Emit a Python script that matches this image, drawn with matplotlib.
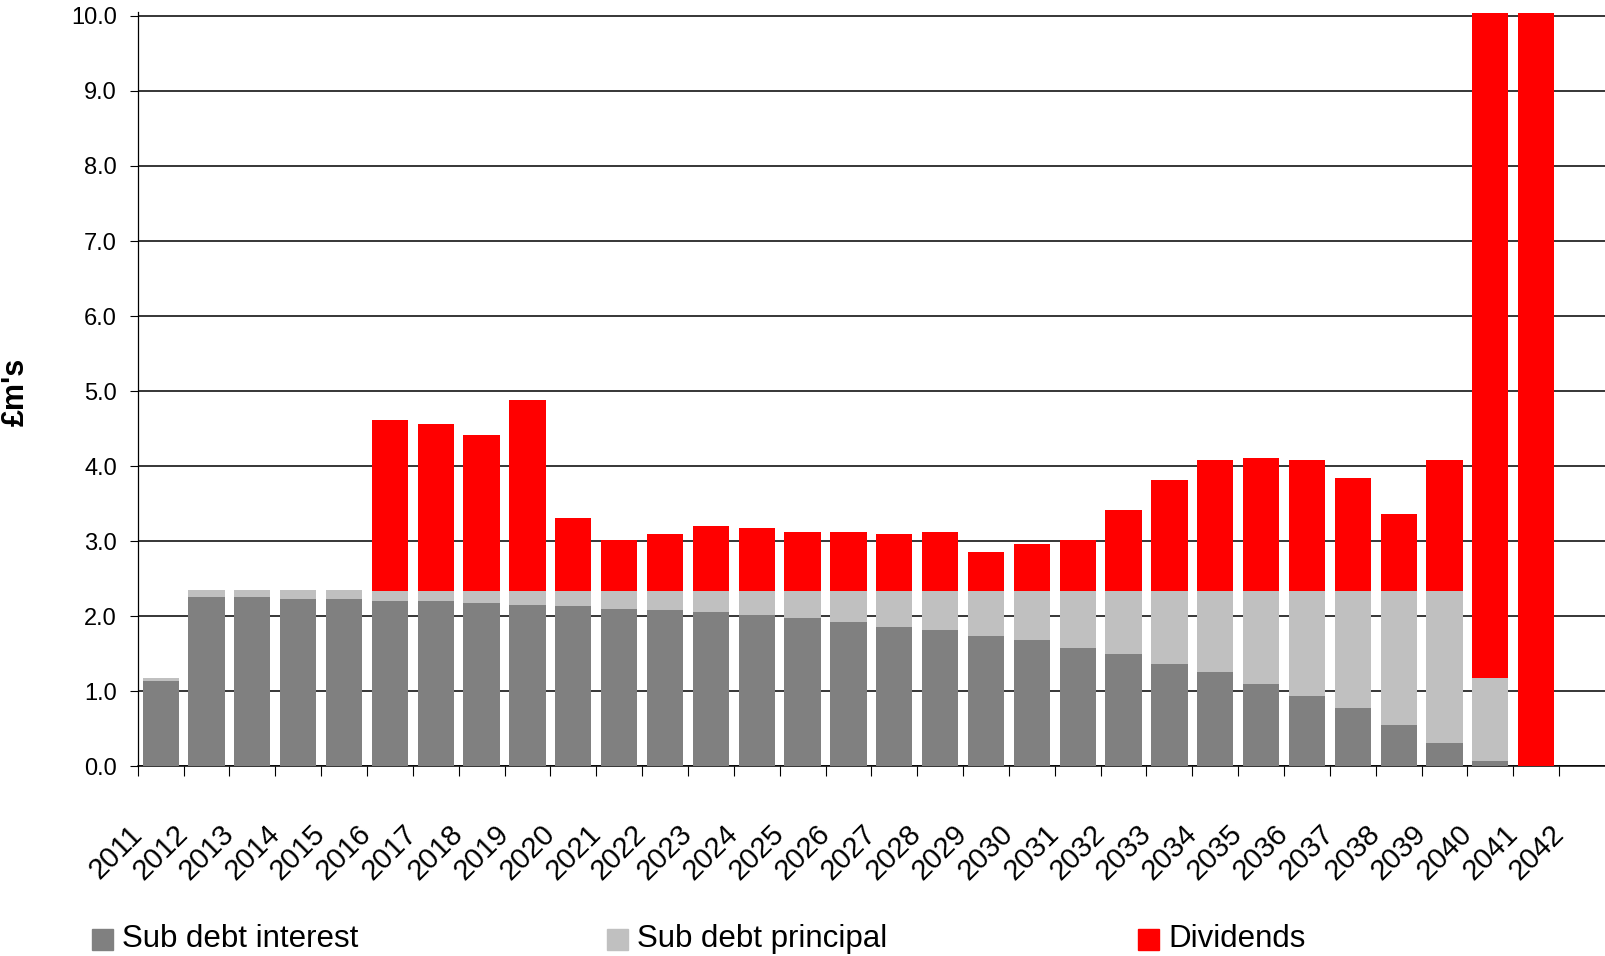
import numpy as np
import matplotlib.pyplot as plt
from matplotlib.patches import Rectangle

plt.rcParams['font.family'] = ['Liberation Sans', 'DejaVu Sans']

# £m per year, stacked: interest, principal, then dividends on top
years = list(range(2011, 2042))
tick_years = list(range(2011, 2043))

sub_debt_interest = [1.14, 2.26, 2.26, 2.23, 2.23, 2.20, 2.20, 2.18, 2.15, 2.13,
                     2.10, 2.08, 2.05, 2.02, 1.97, 1.92, 1.86, 1.81, 1.73, 1.68,
                     1.57, 1.49, 1.36, 1.25, 1.09, 0.93, 0.77, 0.55, 0.31, 0.07,
                     0.00]
sub_debt_principal = [0.04, 0.09, 0.09, 0.12, 0.12, 0.14, 0.14, 0.16, 0.19, 0.21,
                      0.24, 0.26, 0.29, 0.32, 0.37, 0.42, 0.48, 0.53, 0.61, 0.66,
                      0.77, 0.85, 0.98, 1.09, 1.25, 1.41, 1.57, 1.79, 2.03, 1.10,
                      0.00]
dividends = [0.00, 0.00, 0.00, 0.00, 0.00, 2.27, 2.22, 2.08, 2.54, 0.97,
             0.67, 0.75, 0.86, 0.83, 0.78, 0.78, 0.75, 0.78, 0.51, 0.62,
             0.67, 1.07, 1.47, 1.74, 1.77, 1.74, 1.50, 1.02, 1.74, 8.87,
             10.04]

labels = ['Sub debt interest', 'Sub debt principal', 'Dividends']
colors = ['#808080', '#C0C0C0', '#FF0000']

fig = plt.figure(figsize=(16.05, 9.56), dpi=100)
ax = fig.add_axes([0.0858, 0.1987, 0.9142, 0.7885])

x = np.arange(len(years)) + 0.5
w = 0.79
interest = np.array(sub_debt_interest)
principal = np.array(sub_debt_principal)
ax.bar(x, interest, w, color=colors[0], zorder=3)
ax.bar(x, principal, w, bottom=interest, color=colors[1], zorder=3)
ax.bar(x, dividends, w, bottom=interest + principal, color=colors[2], zorder=3)

ax.set_xlim(0, 32)
ax.set_ylim(0, 10.05)
ax.set_yticks(np.arange(0, 11, 1))
ax.set_yticklabels([f'{v:.1f}' for v in range(11)], fontsize=17)
ax.yaxis.grid(True, color='black', linewidth=1.1, zorder=0)
ax.set_axisbelow(True)

ax.set_xticks(np.arange(len(tick_years)))
ax.set_xticklabels([str(y) for y in tick_years], fontsize=21, rotation=45,
                   ha='right', va='center', rotation_mode='anchor')
ax.tick_params(axis='x', length=7, width=0.8, pad=39)
ax.tick_params(axis='y', length=6, width=0.8, pad=9)

for s in ['top', 'right']:
    ax.spines[s].set_visible(False)
ax.spines['left'].set_linewidth(0.9)
ax.spines['bottom'].set_linewidth(1.1)

fig.text(0.010, 0.590, "£m's", rotation=90, fontsize=22, fontweight='bold',
         ha='center', va='center')

# legend along the bottom, entries evenly spread
for lx, lab, col in zip([92, 607, 1138], labels, colors):
    fig.add_artist(Rectangle((lx / 1605, 1 - 950 / 956), 21 / 1605, 21 / 956,
                             transform=fig.transFigure, color=col))
    fig.text((lx + 30) / 1605, 1 - 939 / 956, lab, fontsize=22.5,
             ha='left', va='center')

fig.savefig('out.png', dpi=100)
